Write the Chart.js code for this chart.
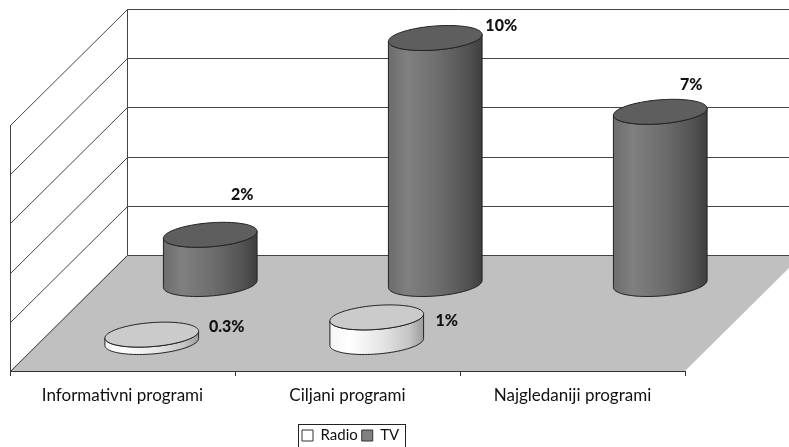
<!DOCTYPE html>
<html lang="sr">
<head>
<meta charset="utf-8">
<title>Radio i TV</title>
<style>
    html, body { margin: 0; padding: 0; background: #fff; overflow: hidden; }
    canvas { display: block; }
</style>
<script src="https://cdn.jsdelivr.net/npm/chart.js@4/dist/chart.umd.min.js"></script>
</head>
<body>
<canvas id="chart" width="789" height="447"></canvas>
<script>
    const categories = ["Informativni programi", "Ciljani programi", "Najgledaniji programi"];
    const radioValues = [0.3, 1, null];
    const tvValues = [2, 10, 7];
    const radioLabels = ["0.3%", "1%", ""];
    const tvLabels = ["2%", "10%", "7%"];
    const valueTicks = [0, 2, 4, 6, 8, 10];

    // the fake 3D: how far the back wall sits from the front plane, in px
    const depthX = 117;
    const depthY = -116;
    const seriesLook = [
        { depth: 0.25, labels: radioLabels, top: "#cbcbcb", stops: ["#f4f4f4", "#ffffff", "#e6e6e6", "#c4c4c4", "#9c9c9c"],
          labelOffsets: [[75, -8], [70, 3], [0, 0]] },
        { depth: 0.75, labels: tvLabels, top: "#5e5e5e", stops: ["#6c6c6c", "#808080", "#6c6c6c", "#525252", "#3e3e3e"],
          labelOffsets: [[32, -40], [66, -12], [31, -27]] },
    ];
    const radiusX = 45;
    const skewX = 13;
    const radiusY = 12.5;
    const legendBox = { left: 298, right: 405, top: 424 };

    const project = (chart, index, value, depth) => ({
        x: chart.scales.x.getPixelForValue(index) + depthX * depth,
        y: chart.scales.y.getPixelForValue(value) + depthY * depth,
    });

    const rimPoint = (center, t) => ({
        x: center.x + radiusX * Math.cos(t) + skewX * Math.sin(t),
        y: center.y - radiusY * Math.sin(t),
    });

    const drawCylinder = (ctx, base, top, look) => {
        const start = Math.atan2(skewX, radiusX);
        const halfWidth = Math.hypot(radiusX, skewX);
        const steps = 48;

        const gradient = ctx.createLinearGradient(base.x - halfWidth, 0, base.x + halfWidth, 0);
        [0, 0.2, 0.55, 0.85, 1].forEach((at, i) => gradient.addColorStop(at, look.stops[i]));

        ctx.beginPath();
        for (let i = 0; i <= steps; i++) {
            const p = rimPoint(base, start - Math.PI * i / steps);
            ctx.lineTo(p.x, p.y);
        }
        for (let i = steps; i >= 0; i--) {
            const p = rimPoint(top, start - Math.PI * i / steps);
            ctx.lineTo(p.x, p.y);
        }
        ctx.closePath();
        ctx.fillStyle = gradient;
        ctx.fill();
        ctx.strokeStyle = "#222";
        ctx.lineWidth = 1;
        ctx.stroke();

        ctx.beginPath();
        for (let i = 0; i < steps * 2; i++) {
            const p = rimPoint(top, Math.PI * i / steps);
            ctx.lineTo(p.x, p.y);
        }
        ctx.closePath();
        ctx.fillStyle = look.top;
        ctx.fill();
        ctx.stroke();
    };

    const line = (ctx, x1, y1, x2, y2) => {
        ctx.beginPath();
        ctx.moveTo(x1, y1);
        ctx.lineTo(x2, y2);
        ctx.stroke();
    };

    const scenePlugin = {
        id: "scene",
        afterLayout(chart) {
            // the legend wraps if right is the real box edge, so the frame is drawn apart in afterDraw
            Object.assign(chart.legend, { left: legendBox.left, right: 600, top: legendBox.top, bottom: 447 });
        },
        beforeDatasetsDraw(chart) {
            const { ctx, chartArea: area, scales: { y } } = chart;
            const floorY = y.getPixelForValue(0);
            ctx.save();

            ctx.fillStyle = "#c0c0c0";
            ctx.beginPath();
            ctx.moveTo(area.left, floorY);
            ctx.lineTo(area.left + depthX, floorY + depthY);
            ctx.lineTo(area.right + depthX, floorY + depthY);
            ctx.lineTo(area.right, floorY);
            ctx.closePath();
            ctx.fill();

            ctx.strokeStyle = "#444";
            ctx.lineWidth = 1;
            valueTicks.forEach((tick) => {
                const py = Math.round(y.getPixelForValue(tick)) + 0.5;
                line(ctx, area.left + 0.5, py, area.left + depthX + 0.5, py + depthY);
                line(ctx, area.left + depthX + 0.5, py + depthY, area.right + depthX, py + depthY);
            });
            const topY = Math.round(y.getPixelForValue(10));
            line(ctx, area.left + 0.5, topY, area.left + 0.5, floorY);
            line(ctx, area.left + depthX + 0.5, topY + depthY, area.left + depthX + 0.5, floorY + depthY);
            ctx.restore();
        },
        beforeDatasetDraw(chart, args) {
            const look = seriesLook[args.index];
            chart.data.datasets[args.index].data.forEach((value, i) => {
                if (value === null) return;
                const base = project(chart, i, 0, look.depth);
                const top = project(chart, i, value, look.depth);
                drawCylinder(chart.ctx, base, top, look);
            });
            return false;
        },
        afterDatasetsDraw(chart) {
            const { ctx } = chart;
            ctx.save();
            ctx.font = "900 16px Lato";
            ctx.fillStyle = "#111";
            ctx.textAlign = "center";
            ctx.textBaseline = "middle";
            seriesLook.forEach((look, s) => {
                chart.data.datasets[s].data.forEach((value, i) => {
                    if (value === null) return;
                    const top = project(chart, i, value, look.depth);
                    const [dx, dy] = look.labelOffsets[i];
                    ctx.fillText(look.labels[i], top.x + dx, top.y + dy);
                });
            });
            ctx.restore();
        },
        afterDraw(chart) {
            const { ctx } = chart;
            ctx.save();
            ctx.strokeStyle = "#222";
            ctx.lineWidth = 1;
            ctx.strokeRect(legendBox.left + 0.5, legendBox.top + 0.5, legendBox.right - legendBox.left, 40);
            ctx.restore();
        },
    };

    const canvas = document.getElementById("chart");
    // gill-sans look of the original is wider than Lato
    canvas.getContext("2d").letterSpacing = "0.9px";

    new Chart(canvas, {
        type: "bar",
        data: {
            labels: categories,
            datasets: [
                { label: "Radio", data: radioValues, backgroundColor: "#ffffff", borderColor: "#333", borderWidth: 1 },
                { label: "TV", data: tvValues, backgroundColor: "#808080", borderColor: "#333", borderWidth: 1 },
            ],
        },
        plugins: [scenePlugin],
        options: {
            responsive: false,
            animation: false,
            layout: { padding: { left: 10, right: 104, top: 125, bottom: 0 } },
            plugins: {
                tooltip: { enabled: false },
                legend: {
                    position: "bottom",
                    align: "start",
                    labels: { boxWidth: 11, boxHeight: 11, padding: 4, color: "#111", font: { family: "Lato", size: 15 } },
                },
            },
            scales: {
                x: {
                    afterFit: (scale) => { scale.height = 47; },
                    border: { color: "#333" },
                    grid: { drawOnChartArea: false, color: "#333", tickLength: 5 },
                    ticks: { color: "#111", padding: 9, maxRotation: 0, autoSkip: false, font: { family: "Lato", size: 17 } },
                },
                y: { display: false, min: 0, max: 10 },
            },
        },
    });
</script>
</body>
</html>
